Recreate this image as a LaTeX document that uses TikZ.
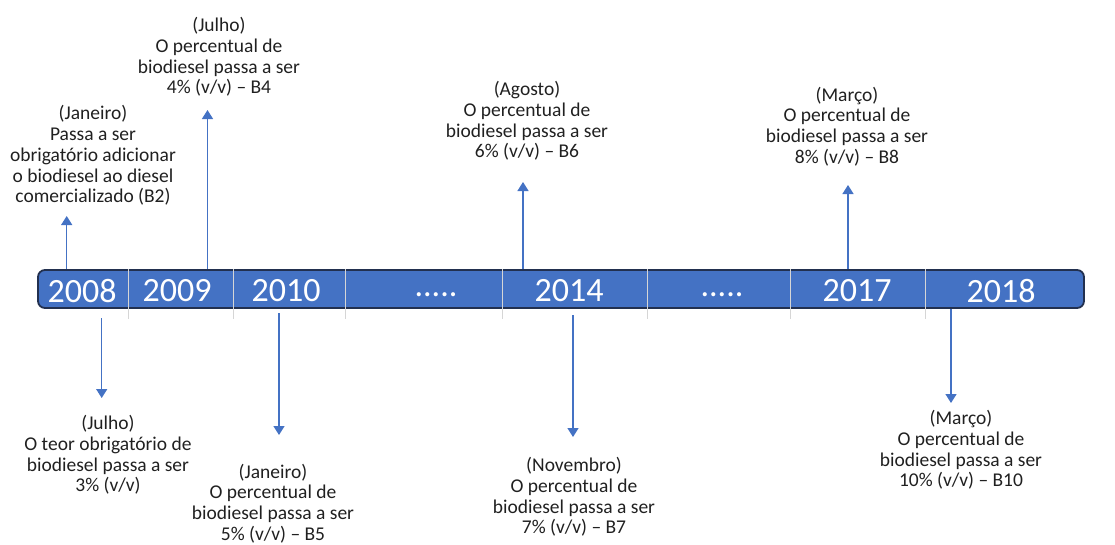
\documentclass[tikz,border=0pt]{standalone}
\usepackage{fontspec}
\setmainfont{Carlito}
\usetikzlibrary{arrows.meta}
\definecolor{barblue}{HTML}{4472C4}
\definecolor{baredge}{HTML}{22304F}
\definecolor{divgray}{HTML}{D6D6D6}
\definecolor{txt}{HTML}{202020}
\begin{document}
\begin{tikzpicture}[x=1pt,y=-1pt,
  evtext/.style={font=\fontsize{19.5}{20.8}\selectfont, text=txt, align=center, inner sep=0pt},
  yeartext/.style={font=\fontsize{34}{36}\selectfont, text=white, inner sep=0pt},
  evarrow/.style={draw=barblue, line width=1.4pt, -{Triangle[width=11pt,length=9pt]}},
  divider/.style={draw=divgray, line width=0.9pt},
  timebar/.style={draw=baredge, fill=barblue, line width=1.8pt, rounded corners=7pt,
    minimum width=1046pt, minimum height=38pt, inner sep=0pt}]
\useasboundingbox (0,0) rectangle (1115,544);

% bar
\node[timebar] (bar) at (561,289) {};

% dividers
\foreach \dx [count=\i] in {128,233,345,502,647,790,925}{
  \coordinate (d\i) at (\dx,319);
  \draw[divider] (bar.north -| d\i) -- (d\i);
}

% year labels
\node[yeartext] (y2008) at (82,291) {2008};
\node[yeartext] (y2009) at (177,291) {2009};
\node[yeartext] (y2010) at (286,291) {2010};
\node[yeartext] (dots1) at (436,295) {.....};
\node[yeartext] (y2014) at (569,291) {2014};
\node[yeartext] (dots2) at (722,295) {.....};
\node[yeartext] (y2017) at (857,291) {2017};
\node[yeartext] (y2018) at (1001,291) {2018};

% event texts (top)
\node[evtext] (e1) at (93,155.5) {(Janeiro)\\Passa a ser\\obrigatório adicionar\\o biodiesel ao diesel\\comercializado (B2)};
\node[evtext] (e2) at (219,57) {(Julho)\\O percentual de\\biodiesel passa a ser\\4\% (v/v) – B4};
\node[evtext] (e5) at (527,121) {(Agosto)\\O percentual de\\biodiesel passa a ser\\6\% (v/v) – B6};
\node[evtext] (e7) at (847,126.5) {(Março)\\O percentual de\\biodiesel passa a ser\\8\% (v/v) – B8};

% event texts (bottom)
\node[evtext] (e3) at (108,455) {(Julho)\\O teor obrigatório de\\biodiesel passa a ser\\3\% (v/v)};
\node[evtext] (e4) at (273,503.5) {(Janeiro)\\O percentual de\\biodiesel passa a ser\\5\% (v/v) – B5};
\node[evtext] (e6) at (574,497) {(Novembro)\\O percentual de\\biodiesel passa a ser\\7\% (v/v) – B7};
\node[evtext] (e8) at (961,450) {(Março)\\O percentual de\\biodiesel passa a ser\\10\% (v/v) – B10};

% arrow tips
\coordinate (t1) at (66.7,216);
\coordinate (t2) at (207.5,110);
\coordinate (t5) at (523,182);
\coordinate (t7) at (848,185);
\coordinate (s3) at (101.7,318);
\coordinate (t3) at (101.7,398);
\coordinate (s4) at (279,313);
\coordinate (t4) at (279,435);
\coordinate (s6) at (573,315);
\coordinate (t6) at (573,437);
\coordinate (t8) at (951,403);

\draw[evarrow] (bar.north -| t1) -- (t1);
\draw[evarrow] (bar.north -| t2) -- (t2);
\draw[evarrow] (bar.north -| t5) -- (t5);
\draw[evarrow] (bar.north -| t7) -- (t7);
\draw[evarrow] (s3) -- (t3);
\draw[evarrow] (s4) -- (t4);
\draw[evarrow] (s6) -- (t6);
\draw[evarrow] (bar.south -| t8) -- (t8);
\end{tikzpicture}
\end{document}
